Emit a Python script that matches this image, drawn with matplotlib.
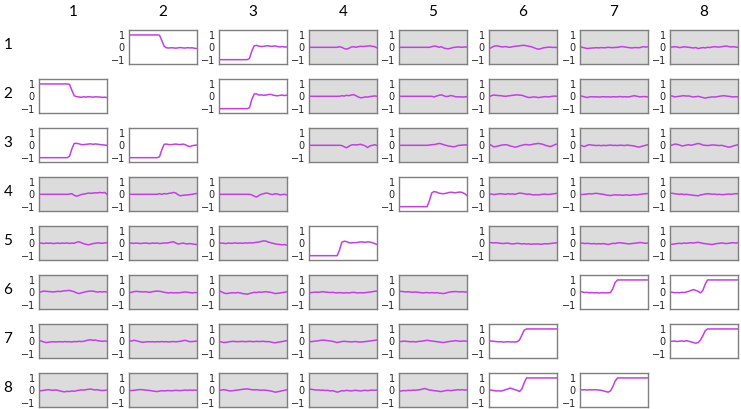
import matplotlib
matplotlib.use("Agg")
import matplotlib.pyplot as plt
import numpy as np

labels = ["1", "2", "3", "4", "5", "6", "7", "8"]
yticks = [1, 0, -1]

# ---- series (30 samples each) ----
p1_2 = [1, 1, 1, 1, 1, 1, 1, 1, 1, 1, 1, 1, 1, 0.98, 0.55, 0.08, -0.04, -0.06, -0.03, -0.05, -0.07, -0.04, -0.02, -0.05, -0.06, -0.03, -0.05, -0.04, -0.08, -0.1]
p1_3 = [-1, -1, -1, -1, -1, -1, -1, -1, -1, -1, -1, -1, -1, -0.9, -0.3, 0.12, 0.15, 0.1, 0.06, 0.08, 0.11, 0.13, 0.07, 0.09, 0.11, 0.06, 0.03, 0.06, 0.02, 0.04]
p1_4 = [0, 0, 0, 0, 0, 0, 0, 0, 0, 0, 0, 0, 0, 0.05, 0.0, -0.1, -0.15, -0.08, 0.02, 0.05, 0.0, 0.05, 0.08, 0.06, 0.08, 0.1, 0.12, 0.08, 0.05, -0.05]
p1_5 = [0, 0, 0, 0, 0, 0, 0, 0, 0, 0, 0, 0, 0, 0, 0.05, 0.1, 0.08, 0.0, 0.05, -0.05, -0.1, -0.12, -0.08, -0.02, 0.0, 0.03, 0.02, 0.0, 0.03, 0.02]
p1_6 = [-0.12, -0.02, 0.08, 0.12, 0.1, 0.05, 0.03, 0.06, 0.02, 0.0, 0.05, 0.08, 0.1, 0.12, 0.15, 0.16, 0.12, 0.08, 0.05, -0.02, -0.1, -0.15, -0.12, -0.05, -0.02, 0.0, 0.02, -0.01, 0.0, -0.02]
p1_7 = [0.05, 0.0, -0.05, -0.1, -0.08, -0.06, -0.05, -0.03, -0.05, -0.02, -0.04, -0.03, 0.0, -0.02, -0.03, -0.01, 0.0, 0.03, 0.06, 0.03, 0.0, -0.03, -0.05, -0.03, -0.02, -0.04, 0.0, 0.05, 0.02, 0.05]
p1_8 = [0.0, 0.02, 0.05, 0.03, -0.02, 0.0, 0.05, 0.02, 0.0, -0.03, -0.05, -0.02, -0.1, -0.06, -0.02, -0.05, 0.0, -0.02, 0.03, 0.05, 0.03, 0.02, 0.05, 0.08, 0.1, 0.06, 0.03, 0.05, 0.02, 0.0]

p2_1 = [1, 1, 1, 1, 1, 1, 1, 1, 1, 1, 1, 1, 1, 0.97, 0.5, 0.05, -0.03, -0.05, -0.08, -0.04, -0.06, -0.03, -0.05, -0.07, -0.04, -0.05, -0.06, -0.09, -0.07, -0.1]
p2_3 = [-1, -1, -1, -1, -1, -1, -1, -1, -1, -1, -1, -1, -1, -0.92, -0.25, 0.18, 0.2, 0.1, 0.12, 0.08, 0.1, 0.14, 0.16, 0.1, 0.06, 0.04, 0.08, 0.1, 0.06, 0.1]
p2_4 = [0, 0, 0, 0, 0, 0, 0, 0, 0, 0, 0, 0, 0, 0, 0.05, 0.02, 0.08, 0.05, 0.1, 0.14, 0.05, -0.05, -0.12, -0.1, -0.05, -0.06, -0.02, 0.0, 0.03, 0.0]
p2_5 = [0, 0, 0, 0, 0, 0, 0, 0, 0, 0, 0, 0, 0, 0, 0, -0.05, 0.02, 0.08, 0.12, 0.05, -0.02, 0.0, 0.06, 0.03, -0.03, -0.05, -0.04, -0.06, -0.05, -0.02]
p2_6 = [-0.05, 0.05, 0.1, 0.08, 0.06, 0.05, 0.02, 0.0, 0.03, 0.05, 0.08, 0.1, 0.12, 0.1, 0.08, 0.02, -0.05, -0.1, -0.08, -0.05, -0.06, -0.1, -0.08, -0.05, -0.02, -0.05, -0.03, 0.0, 0.02, 0.0]
p2_7 = [0.05, 0.0, -0.05, -0.1, -0.05, -0.03, -0.05, -0.04, -0.06, -0.05, -0.03, -0.05, -0.04, -0.06, -0.03, -0.05, -0.04, -0.02, -0.05, -0.03, -0.05, -0.04, 0.0, 0.05, 0.02, -0.03, -0.04, -0.02, -0.03, -0.05]
p2_8 = [0.05, 0.02, -0.05, -0.02, 0.0, 0.03, 0.05, 0.02, 0.03, -0.02, -0.05, -0.03, 0.0, -0.05, -0.1, -0.15, -0.1, -0.08, -0.05, -0.06, -0.03, 0.0, 0.03, 0.05, 0.02, 0.0, -0.03, -0.05, -0.03, -0.05]

p3_1 = [-1, -1, -1, -1, -1, -1, -1, -1, -1, -1, -1, -1, -1, -0.9, -0.3, 0.15, 0.16, 0.12, 0.06, 0.05, 0.08, 0.1, 0.12, 0.08, 0.11, 0.09, 0.06, 0.04, 0.02, 0.0]
p3_2 = [-1, -1, -1, -1, -1, -1, -1, -1, -1, -1, -1, -1, -1, -0.93, -0.35, 0.08, 0.1, 0.06, 0.05, 0.08, 0.1, 0.07, 0.06, 0.1, 0.05, -0.05, -0.1, -0.03, 0.0, 0.02]
p3_4 = [0, 0, 0, 0, 0, 0, 0, 0, 0, 0, 0, 0, 0, 0, -0.02, -0.12, -0.2, -0.08, 0.02, 0.05, 0.03, 0.05, 0.08, 0.02, -0.05, -0.18, -0.05, 0.0, 0.05, -0.02]
p3_5 = [0, 0, 0, 0, 0, 0, 0, 0, 0, 0, 0, 0, 0, 0.02, 0.05, 0.06, 0.1, 0.15, 0.12, 0.05, 0.0, -0.05, -0.08, -0.12, -0.1, -0.02, 0.0, 0.02, 0.03, 0.03]
p3_6 = [0.1, 0.0, -0.12, -0.1, -0.05, 0.0, 0.03, 0.05, 0.02, -0.05, -0.1, -0.15, -0.12, -0.05, 0.0, 0.05, 0.06, 0.03, 0.05, 0.1, 0.12, 0.15, 0.12, 0.08, 0.0, -0.05, -0.1, -0.05, 0.05, 0.1]
p3_7 = [0.0, -0.05, -0.1, 0.0, 0.05, 0.02, 0.0, -0.02, 0.0, -0.03, 0.0, -0.02, 0.0, 0.02, -0.01, 0.0, -0.02, 0.01, 0.0, -0.02, 0.02, 0.0, -0.03, -0.05, -0.1, -0.15, -0.1, -0.05, 0.0, 0.05]
p3_8 = [0.0, 0.02, 0.1, 0.08, 0.03, -0.05, -0.03, 0.02, 0.05, 0.0, 0.05, 0.1, 0.15, 0.1, 0.02, 0.0, -0.02, 0.0, 0.03, 0.02, 0.0, -0.02, 0.0, -0.05, -0.1, -0.15, -0.12, -0.05, 0.0, 0.05]

p4_1 = [0, 0, 0, 0, 0, 0, 0, 0, 0, 0, 0, 0, 0, 0.02, 0.05, -0.08, -0.15, -0.1, -0.02, 0.02, 0.05, 0.1, 0.08, 0.1, 0.12, 0.12, 0.15, 0.12, 0.15, 0.0]
p4_2 = [0, 0, 0, 0, 0, 0, 0, 0, 0, 0, 0, 0, 0, 0.05, 0.0, 0.06, 0.03, 0.08, 0.1, 0.15, 0.1, -0.05, -0.12, -0.08, -0.06, -0.05, -0.02, 0.0, 0.05, 0.06]
p4_3 = [0, 0, 0, 0, 0, 0, 0, 0, 0, 0, 0, 0, 0, 0, -0.05, -0.15, -0.22, -0.1, 0.0, 0.05, 0.1, 0.08, 0.0, -0.02, 0.05, 0.02, -0.05, -0.02, 0.0, -0.05]
p4_5 = [-1, -1, -1, -1, -1, -1, -1, -1, -1, -1, -1, -1, -1, -0.5, 0.12, 0.22, 0.18, 0.1, 0.06, 0.05, 0.08, 0.13, 0.17, 0.15, 0.12, 0.16, 0.18, 0.15, 0.05, -0.1]
p4_6 = [0.0, 0.02, -0.02, 0.0, 0.03, 0.05, 0.02, 0.0, 0.05, 0.02, 0.03, 0.0, 0.05, 0.1, 0.08, 0.05, 0.0, 0.02, -0.02, -0.05, -0.03, -0.05, -0.02, 0.0, 0.02, -0.02, 0.0, 0.03, 0.05, 0.08]
p4_7 = [0.0, -0.02, 0.0, 0.02, 0.05, 0.03, 0.06, 0.08, 0.05, 0.02, 0.0, -0.05, -0.08, -0.1, -0.06, -0.04, -0.06, -0.05, -0.08, -0.06, -0.05, -0.08, -0.06, -0.03, -0.05, -0.02, 0.0, 0.03, 0.05, 0.06]
p4_8 = [0.1, 0.08, 0.05, 0.02, 0.0, 0.02, -0.02, 0.0, -0.03, -0.05, -0.08, -0.1, -0.12, -0.05, -0.02, 0.02, 0.05, 0.03, 0.0, 0.02, -0.02, 0.0, -0.03, -0.02, 0.0, 0.02, 0.0, 0.03, 0.05, 0.04]

p5_1 = [0, 0.02, -0.02, 0.02, 0.0, 0.02, -0.02, 0.0, 0.02, -0.01, 0.02, 0.0, 0.03, -0.01, 0.02, 0.0, 0.08, 0.12, 0.05, -0.02, -0.08, -0.12, -0.08, -0.02, 0.0, 0.03, 0.02, 0.0, 0.03, 0.05]
p5_2 = [0, 0.02, -0.01, 0.02, 0.0, -0.02, 0.01, 0.02, 0.0, -0.02, 0.02, 0.0, 0.02, -0.02, 0.0, 0.03, 0.02, 0.05, 0.1, 0.12, 0.02, -0.06, -0.02, 0.02, -0.03, -0.05, -0.02, -0.05, -0.08, -0.1]
p5_3 = [0, 0.02, 0.0, -0.02, 0.02, 0.0, 0.01, 0.03, 0.0, 0.02, 0.0, 0.03, 0.02, 0.04, 0.03, 0.05, 0.08, 0.1, 0.15, 0.2, 0.18, 0.1, 0.05, 0.0, -0.05, -0.08, -0.1, -0.12, -0.1, -0.15]
p5_4 = [-1, -1, -1, -1, -1, -1, -1, -1, -1, -1, -1, -1, -1, -0.55, 0.08, 0.17, 0.14, 0.05, 0.03, 0.06, 0.05, 0.08, 0.12, 0.1, 0.08, 0.12, 0.1, 0.05, -0.02, -0.1]
p5_6 = [0.08, 0.05, 0.03, 0.05, 0.02, 0.0, -0.02, 0.0, 0.02, -0.03, -0.05, -0.03, 0.0, -0.02, -0.05, -0.03, -0.06, -0.04, -0.08, -0.05, -0.06, -0.05, -0.08, -0.06, -0.03, -0.05, -0.02, 0.0, 0.02, 0.05]
p5_7 = [0.0, 0.02, -0.02, 0.0, -0.02, -0.04, -0.02, -0.05, -0.03, -0.05, -0.02, -0.06, -0.1, -0.05, 0.0, -0.02, 0.03, 0.05, 0.02, 0.0, -0.03, -0.05, -0.02, 0.0, 0.02, 0.05, 0.06, 0.03, 0.0, 0.02]
p5_8 = [-0.1, -0.08, -0.05, -0.02, 0.0, -0.02, 0.02, 0.0, 0.03, 0.05, 0.02, 0.06, 0.08, 0.04, 0.0, -0.03, -0.05, -0.08, -0.1, -0.06, -0.02, 0.0, 0.03, 0.0, -0.02, 0.0, 0.03, 0.05, 0.02, 0.05]

p6_1 = [-0.05, 0.05, 0.1, 0.08, 0.06, 0.05, 0.03, 0.05, 0.08, 0.06, 0.1, 0.12, 0.14, 0.15, 0.1, 0.05, -0.05, -0.1, -0.05, 0.0, 0.05, 0.08, 0.1, 0.1, 0.05, 0.02, 0.05, 0.03, 0.05, 0.02]
p6_2 = [-0.05, 0.0, 0.05, 0.08, 0.06, 0.05, 0.03, 0.05, 0.02, 0.0, 0.05, 0.08, 0.1, 0.08, 0.05, 0.0, -0.03, -0.05, -0.02, -0.05, -0.03, -0.05, -0.02, 0.0, 0.03, 0.0, -0.02, -0.05, -0.02, -0.03]
p6_3 = [0.12, 0.05, -0.05, -0.1, -0.08, -0.05, -0.03, -0.05, -0.02, -0.05, -0.1, -0.12, -0.15, -0.1, -0.05, 0.0, -0.02, 0.02, 0.0, 0.03, 0.05, 0.02, 0.0, -0.05, -0.1, -0.08, -0.05, -0.02, 0.0, 0.05]
p6_4 = [-0.05, -0.02, 0.0, 0.02, 0.0, 0.03, 0.05, 0.02, 0.0, -0.02, 0.0, -0.03, -0.05, -0.02, -0.04, -0.06, -0.03, -0.05, -0.02, 0.0, -0.03, -0.05, -0.03, -0.05, -0.03, 0.0, 0.02, 0.05, 0.08, 0.1]
p6_5 = [0.05, 0.08, 0.05, 0.03, 0.05, 0.02, 0.0, 0.03, 0.0, -0.02, -0.05, -0.03, -0.02, -0.05, -0.02, -0.05, -0.03, -0.06, -0.08, -0.1, -0.06, 0.0, 0.03, 0.05, 0.06, 0.05, 0.03, 0.05, 0.02, 0.04]
p6_7 = [0.05, 0.03, -0.02, 0.0, -0.04, -0.02, -0.05, -0.03, -0.06, -0.04, -0.03, -0.05, -0.04, -0.02, 0.3, 0.8, 1, 1, 1, 1, 1, 1, 1, 1, 1, 1, 1, 1, 1, 1]
p6_8 = [0.02, 0.0, -0.03, -0.02, -0.04, 0.0, -0.02, 0.03, 0.08, 0.15, 0.22, 0.15, 0.08, -0.05, 0.15, 0.65, 1, 1, 1, 1, 1, 1, 1, 1, 1, 1, 1, 1, 1, 1]

p7_1 = [0.05, 0.02, -0.05, -0.1, -0.08, -0.05, -0.03, -0.05, -0.04, -0.03, -0.05, -0.02, -0.04, -0.03, -0.05, -0.02, -0.03, 0.0, -0.02, 0.0, 0.05, 0.1, 0.12, 0.08, 0.1, 0.05, 0.02, 0.0, 0.03, 0.0]
p7_2 = [0.05, 0.02, 0.08, 0.05, 0.0, -0.05, -0.08, -0.05, -0.03, -0.04, -0.03, -0.05, -0.03, -0.04, -0.02, -0.04, -0.03, -0.05, -0.03, -0.02, -0.04, -0.02, 0.0, 0.05, 0.08, 0.02, -0.03, -0.02, 0.0, 0.02]
p7_3 = [0.0, -0.05, -0.1, -0.08, -0.05, -0.02, 0.0, -0.02, -0.03, -0.02, 0.0, -0.03, -0.02, 0.0, -0.02, -0.03, 0.0, -0.02, -0.01, 0.0, -0.03, -0.02, -0.05, -0.1, -0.12, -0.08, -0.05, -0.02, 0.02, 0.05]
p7_4 = [0.0, -0.03, 0.0, 0.02, 0.05, 0.08, 0.1, 0.08, 0.05, 0.03, 0.0, -0.05, -0.1, -0.06, -0.02, 0.0, -0.02, -0.03, -0.05, -0.03, -0.02, -0.05, -0.06, -0.04, -0.02, 0.0, 0.03, 0.05, 0.08, 0.1]
p7_5 = [0.0, -0.02, 0.02, 0.0, -0.02, -0.04, -0.02, -0.05, -0.02, 0.0, 0.02, 0.05, 0.08, 0.05, 0.02, 0.0, -0.03, -0.05, -0.08, -0.1, -0.06, -0.03, 0.0, 0.02, 0.05, 0.03, 0.0, 0.02, 0.03, 0.0]
p7_6 = [0.05, 0.02, 0.0, -0.02, -0.04, -0.03, -0.06, -0.05, -0.03, -0.05, -0.04, -0.06, -0.03, 0.1, 0.5, 0.9, 1, 1, 1, 1, 1, 1, 1, 1, 1, 1, 1, 1, 1, 1]
p7_8 = [0.02, 0.0, 0.03, -0.02, 0.01, 0.03, 0.0, 0.05, 0.0, -0.05, -0.1, -0.15, -0.1, 0.1, 0.45, 0.85, 1, 1, 1, 1, 1, 1, 1, 1, 1, 1, 1, 1, 1, 1]

p8_1 = [-0.05, -0.03, 0.0, 0.03, 0.05, 0.02, 0.0, 0.03, 0.0, -0.05, -0.1, -0.12, -0.08, -0.1, -0.05, -0.08, -0.03, 0.0, 0.03, 0.02, 0.05, 0.08, 0.1, 0.06, 0.03, 0.05, 0.0, -0.02, 0.0, 0.02]
p8_2 = [0.0, -0.02, 0.0, 0.02, 0.05, 0.06, 0.04, 0.02, 0.0, -0.02, -0.05, -0.08, -0.1, -0.06, -0.03, -0.05, -0.03, -0.02, -0.04, -0.02, 0.0, -0.02, -0.03, 0.0, 0.02, 0.0, 0.02, 0.0, 0.02, 0.0]
p8_3 = [0.0, 0.02, 0.05, 0.02, -0.03, -0.05, -0.03, 0.0, 0.02, 0.05, 0.08, 0.1, 0.12, 0.08, 0.05, 0.03, 0.05, 0.02, 0.0, 0.02, 0.0, -0.02, -0.05, -0.1, -0.15, -0.12, -0.08, -0.03, 0.0, 0.05]
p8_4 = [0.1, 0.08, 0.05, 0.02, 0.03, 0.0, 0.02, -0.02, 0.0, -0.05, -0.03, -0.08, -0.15, -0.1, -0.03, -0.05, 0.0, -0.03, -0.05, -0.02, 0.0, -0.03, -0.05, -0.02, 0.0, -0.03, 0.0, 0.02, 0.0, 0.02]
p8_5 = [-0.08, -0.05, -0.02, -0.03, 0.0, -0.02, 0.02, 0.0, 0.03, 0.05, 0.1, 0.15, 0.08, 0.02, 0.0, -0.03, -0.05, -0.08, -0.1, -0.06, -0.02, 0.0, -0.03, 0.0, 0.02, 0.05, 0.03, 0.05, 0.02, 0.03]
p8_6 = [0.0, 0.02, -0.02, -0.05, -0.04, -0.06, -0.02, 0.05, 0.1, 0.18, 0.12, 0.05, 0.0, -0.1, 0.1, 0.6, 1, 1, 1, 1, 1, 1, 1, 1, 1, 1, 1, 1, 1, 1]
p8_7 = [0.05, 0.03, 0.05, 0.02, 0.05, 0.03, 0.05, 0.04, 0.02, 0.0, -0.05, -0.1, -0.15, -0.05, 0.3, 0.75, 1, 1, 1, 1, 1, 1, 1, 1, 1, 1, 1, 1, 1, 1]

series = {
    (1, 2): p1_2, (1, 3): p1_3, (1, 4): p1_4, (1, 5): p1_5, (1, 6): p1_6, (1, 7): p1_7, (1, 8): p1_8,
    (2, 1): p2_1, (2, 3): p2_3, (2, 4): p2_4, (2, 5): p2_5, (2, 6): p2_6, (2, 7): p2_7, (2, 8): p2_8,
    (3, 1): p3_1, (3, 2): p3_2, (3, 4): p3_4, (3, 5): p3_5, (3, 6): p3_6, (3, 7): p3_7, (3, 8): p3_8,
    (4, 1): p4_1, (4, 2): p4_2, (4, 3): p4_3, (4, 5): p4_5, (4, 6): p4_6, (4, 7): p4_7, (4, 8): p4_8,
    (5, 1): p5_1, (5, 2): p5_2, (5, 3): p5_3, (5, 4): p5_4, (5, 6): p5_6, (5, 7): p5_7, (5, 8): p5_8,
    (6, 1): p6_1, (6, 2): p6_2, (6, 3): p6_3, (6, 4): p6_4, (6, 5): p6_5, (6, 7): p6_7, (6, 8): p6_8,
    (7, 1): p7_1, (7, 2): p7_2, (7, 3): p7_3, (7, 4): p7_4, (7, 5): p7_5, (7, 6): p7_6, (7, 8): p7_8,
    (8, 1): p8_1, (8, 2): p8_2, (8, 3): p8_3, (8, 4): p8_4, (8, 5): p8_5, (8, 6): p8_6, (8, 7): p8_7,
}

highlighted = {(1, 2), (1, 3), (2, 1), (2, 3), (3, 1), (3, 2), (4, 5), (5, 4),
               (6, 7), (6, 8), (7, 6), (7, 8), (8, 6), (8, 7)}

# ---- layout ----
W, H = 741, 409
fig = plt.figure(figsize=(W / 100, H / 100), dpi=100)
col_left = [39, 129, 219, 309, 399, 489, 580, 670]
row_top = [30, 79, 128, 177, 226, 275, 324, 373]
pw, ph = 68, 34
line_color = "#c63ceb"
header_font = ["Lato", "DejaVu Sans"]

for (r, c), vals in series.items():
    x0 = col_left[c - 1]
    y0 = row_top[r - 1]
    ax = fig.add_axes([x0 / W, 1 - (y0 + ph) / H, pw / W, ph / H])
    xs = np.linspace(0, 1, len(vals))
    ax.plot(xs, vals, color=line_color, lw=1.1)
    ax.set_xlim(0, 1)
    ax.set_ylim(-1.35, 1.4)
    ax.set_facecolor("white" if (r, c) in highlighted else "#dcdcdc")
    ax.set_xticks([])
    ax.set_yticks(yticks)
    ax.set_yticklabels(["1", "0", "\u22121"], fontsize=7, color="#222222")
    ax.tick_params(axis="y", length=0, pad=3)
    for s in ax.spines.values():
        s.set_color("#7f7f7f")
        s.set_linewidth(1.0)

for i, lab in enumerate(labels):
    cx = (col_left[i] + pw / 2) / W
    fig.text(cx, 1 - 12 / H, lab, ha="center", va="center", fontsize=11, family=header_font)
    cy = 1 - (row_top[i] + ph / 2 - 2) / H
    fig.text(8 / W, cy, lab, ha="center", va="center", fontsize=11, family=header_font)

fig.savefig("out.png", dpi=100)
